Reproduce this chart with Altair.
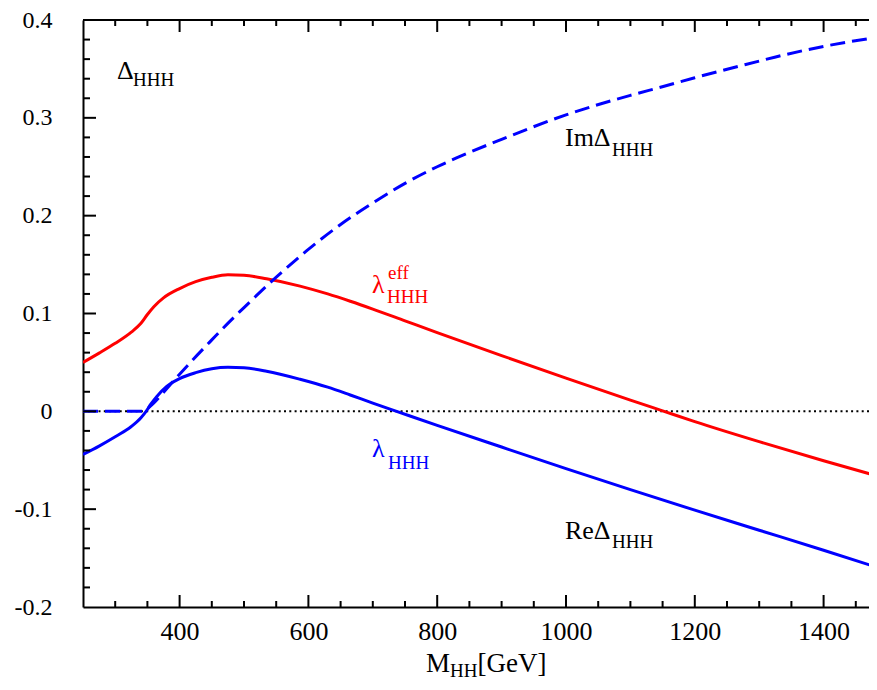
import altair as alt
import pandas as pd

# ---- data ----
red_x = [250, 275, 300, 325, 340, 350, 360, 375, 400, 425, 450, 475, 500, 535, 587, 630, 665, 700,
         750, 800, 900, 1000, 1100, 1150, 1200, 1300, 1400, 1480]
red_y = [0.050, 0.0595, 0.0695, 0.081, 0.090, 0.099, 0.107, 0.116, 0.1255, 0.1325, 0.137, 0.1395, 0.139,
         0.1355, 0.128, 0.120, 0.1125, 0.1045, 0.0925, 0.0805, 0.057, 0.034, 0.0115, 0.0005, -0.0105,
         -0.031, -0.0505, -0.0655]

re_x = [250, 275, 300, 325, 340, 348, 355, 365, 380, 400, 425, 450, 475, 500, 535, 587, 630, 665, 700,
        737, 800, 900, 1000, 1100, 1200, 1300, 1400, 1480]
re_y = [-0.044, -0.0355, -0.026, -0.0155, -0.0065, 0.0, 0.007, 0.0155, 0.0255, 0.0335, 0.0395, 0.0435,
        0.045, 0.0445, 0.041, 0.0328, 0.0247, 0.0167, 0.0084, 0.0, -0.0143, -0.0365, -0.0585, -0.080,
        -0.101, -0.1215, -0.142, -0.1588]

im_x = [250, 300, 346, 350, 360, 370, 385, 400, 421, 450, 478, 500, 538, 560, 597, 650, 700, 750, 800,
        830, 900, 1000, 1100, 1151, 1200, 1300, 1324, 1400, 1480]
im_y = [0.0, 0.0, 0.0, 0.0025, 0.0085, 0.0155, 0.027, 0.038, 0.053, 0.073, 0.092, 0.106, 0.130, 0.143,
        0.164, 0.191, 0.213, 0.233, 0.250, 0.259, 0.278, 0.303, 0.323, 0.332, 0.341, 0.358, 0.362, 0.373,
        0.382]

x_labels = [400, 600, 800, 1000, 1200, 1400]
y_labels = [-0.2, -0.1, 0.0, 0.1, 0.2, 0.3, 0.4]
x_major = [400, 600, 800, 1000, 1200, 1400]
x_minor = [300, 350, 450, 500, 550, 650, 700, 750, 850, 900, 950, 1050, 1100, 1150, 1250, 1300, 1350, 1450]
y_major = [-0.1, 0.0, 0.1, 0.2, 0.3]
y_minor = [-0.18, -0.16, -0.14, -0.12, -0.08, -0.06, -0.04, -0.02, 0.02, 0.04, 0.06, 0.08,
           0.12, 0.14, 0.16, 0.18, 0.22, 0.24, 0.26, 0.28, 0.32, 0.34, 0.36, 0.38]

# annotation pieces: text, x, y, size, colour
ann_text = ["Δ", "HHH", "ImΔ", "HHH", "ReΔ", "HHH", "λ", "eff", "HHH", "λ", "HHH",
            "M", "HH", "[GeV]"]
ann_x = [302.8, 327.6, 998.4, 1071.4, 998.4, 1071.4, 698.8, 723.6, 722.0, 698.8, 723.6,
         782.6, 819.9, 862.6]
ann_y = [0.3393, 0.3322, 0.2707, 0.2605, -0.1305, -0.1397, 0.1213, 0.1356, 0.111, -0.0466, -0.0589,
         -0.2666, -0.2717, -0.2666]
ann_size = [26, 19, 26, 19, 26, 19, 26, 19, 19, 26, 19, 27, 19, 27]
ann_color = ["black", "black", "black", "black", "black", "black", "#ff0000", "#ff0000", "#ff0000",
             "#0000ff", "#0000ff", "black", "black", "black"]

W, H = 786, 587
XMIN, XMAX = 250, 250 + W / 0.644
FONT = "Liberation Serif"

xs = alt.Scale(domain=[XMIN, XMAX], nice=False, zero=False)
ys = alt.Scale(domain=[-0.2, 0.4], nice=False, zero=False)

x_axis = alt.Axis(values=x_labels, format="d", ticks=False, grid=False, domain=True,
                  domainColor="black", domainWidth=2, labelFont=FONT, labelFontSize=26,
                  labelColor="black", labelPadding=11, title=None)
y_axis = alt.Axis(values=y_labels, ticks=False, grid=False, domain=True, domainColor="black",
                  domainWidth=2, labelFont=FONT, labelFontSize=24, labelColor="black",
                  labelPadding=31, title=None,
                  labelExpr="datum.value == 0 ? '0' : replace(format(datum.value, '.1f'), '\u2212', '-')")

red_df = pd.DataFrame({"x": red_x, "y": red_y})
re_df = pd.DataFrame({"x": re_x, "y": re_y})
im_df = pd.DataFrame({"x": im_x, "y": im_y})

base_zero = alt.Chart(pd.DataFrame({"y": [0.0]})).mark_rule(
    color="black", strokeWidth=2, strokeDash=[2, 3.3]
).encode(y=alt.Y("y:Q", scale=ys, axis=y_axis))

def curve(df, color, dash=None):
    kw = dict(color=color, strokeWidth=3, clip=True, interpolate="monotone")
    if dash:
        kw["strokeDash"] = dash
    return alt.Chart(df).mark_line(**kw).encode(
        x=alt.X("x:Q", scale=xs, axis=x_axis),
        y=alt.Y("y:Q", scale=ys, axis=y_axis),
    )

red_line = curve(red_df, "#ff0000")
re_line = curve(re_df, "#0000ff")
im_line = curve(im_df, "#0000ff", [15, 7])

def xticks(vals, top, length):
    y0 = 0 if top else H
    y1 = length if top else H - length
    return alt.Chart(pd.DataFrame({"t": vals})).mark_rule(color="black", strokeWidth=2).encode(
        x=alt.X("t:Q", scale=xs, axis=x_axis), y=alt.value(y0), y2=alt.value(y1))

def yticks(vals, length):
    return alt.Chart(pd.DataFrame({"t": vals})).mark_rule(color="black", strokeWidth=2).encode(
        y=alt.Y("t:Q", scale=ys, axis=y_axis), x=alt.value(0), x2=alt.value(length))

top_line = alt.Chart(pd.DataFrame({"a": [0]})).mark_rule(color="black", strokeWidth=2).encode(
    y=alt.value(0))

ann_df = pd.DataFrame({"text": ann_text, "x": ann_x, "y": ann_y, "size": ann_size, "color": ann_color})
ann = alt.Chart(ann_df).mark_text(align="left", baseline="alphabetic", font=FONT).encode(
    x=alt.X("x:Q", scale=xs, axis=x_axis), y=alt.Y("y:Q", scale=ys, axis=y_axis), text="text:N",
    size=alt.Size("size:Q", scale=None, legend=None),
    color=alt.Color("color:N", scale=None, legend=None))

chart = alt.layer(
    base_zero, red_line, im_line, re_line,
    xticks(x_major, False, 12), xticks(x_minor, False, 6),
    xticks(x_major, True, 12), xticks(x_minor, True, 6),
    yticks(y_major, 13), yticks(y_minor, 7),
    top_line, ann,
).properties(
    width=W, height=H, background="white",
    padding={"left": 75, "top": 12, "right": 0, "bottom": 75},
    autosize=alt.AutoSizeParams(type="none"),
).configure(font=FONT).configure_view(stroke=None).configure_text(font=FONT)

chart.save("out.html", embed_options={"renderer": "svg", "actions": False})
